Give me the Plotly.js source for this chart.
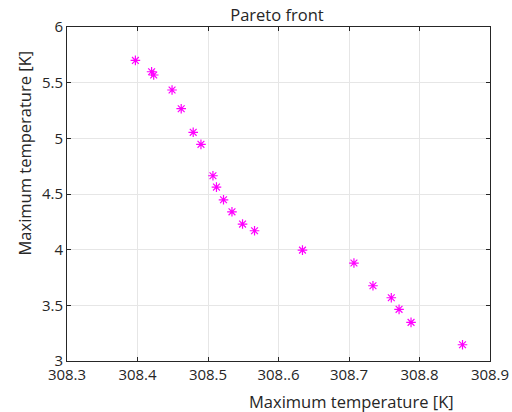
<!DOCTYPE html>
<html>
<head>
<meta charset="utf-8">
<script src="https://cdn.plot.ly/plotly-3.0.1.min.js"></script>
<style>html,body{margin:0;padding:0;background:#fff;}#chart{width:512px;height:412px;}</style>
</head>
<body>
<div id="chart"></div>
<script>
// Data
var maxTempX = [308.397, 308.420, 308.423, 308.449, 308.462, 308.479, 308.490, 308.507, 308.512, 308.522,
                308.534, 308.549, 308.566, 308.634, 308.707, 308.734, 308.760, 308.771, 308.788, 308.861];
var maxTempY = [5.700, 5.598, 5.569, 5.434, 5.266, 5.054, 4.946, 4.664, 4.562, 4.448,
                4.340, 4.230, 4.170, 3.996, 3.880, 3.676, 3.568, 3.464, 3.347, 3.146];
var xTickVals = [308.3, 308.4, 308.5, 308.6, 308.7, 308.8, 308.9];
var xTickText = ['308.3', '308.4', '308.5', '308..6', '308.7', '308.8', '308.9'];
var yTickVals = [3, 3.5, 4, 4.5, 5, 5.5, 6];
var yTickText = ['3', '3.5', '4', '4.5', '5', '5.5', '6'];

var font = 'Open Sans, Lato, sans-serif';
var trace = {
  x: maxTempX, y: maxTempY, mode: 'markers', type: 'scatter',
  marker: {symbol: 'asterisk-open', size: 8, color: '#ff00ff', line: {color: '#ff00ff', width: 1.2}},
  hoverinfo: 'skip'
};
var axisCommon = {
  showline: true, linecolor: '#262626', linewidth: 1, mirror: 'ticks',
  ticks: 'inside', ticklen: 4, tickcolor: '#262626',
  showgrid: true, gridcolor: '#e6e6e6', gridwidth: 1, zeroline: false,
  tickfont: {family: font, size: 15, color: '#262626'}
};
var layout = {
  width: 512, height: 412,
  margin: {l: 67, r: 22, t: 27, b: 51},
  paper_bgcolor: '#fff', plot_bgcolor: '#fff',
  showlegend: false,
  title: {text: 'Pareto front', x: 0.541, xanchor: 'center', y: 0.963, yanchor: 'middle', automargin: false,
          font: {family: font, size: 16.5, color: '#262626'}},
  xaxis: Object.assign({}, axisCommon, {range: [308.3, 308.9], tickmode: 'array', tickvals: xTickVals, ticktext: xTickText}),
  yaxis: Object.assign({}, axisCommon, {range: [3, 6], tickmode: 'array', tickvals: yTickVals, ticktext: yTickText}),
  annotations: [
    {text: 'Maximum temperature [K]', xref: 'paper', yref: 'paper', x: (351 - 67) / 423, y: (361 - 401) / 334,
     xanchor: 'center', yanchor: 'middle', showarrow: false, font: {family: font, size: 16.5, color: '#262626'}},
    {text: 'Maximum temperature [K]', xref: 'paper', yref: 'paper', x: (24 - 67) / 423, y: (361 - 153.5) / 334,
     xanchor: 'center', yanchor: 'middle', textangle: -90, showarrow: false, font: {family: font, size: 16.5, color: '#262626'}}
  ]
};
Plotly.newPlot('chart', [trace], layout, {displayModeBar: false, staticPlot: true});
</script>
</body>
</html>
